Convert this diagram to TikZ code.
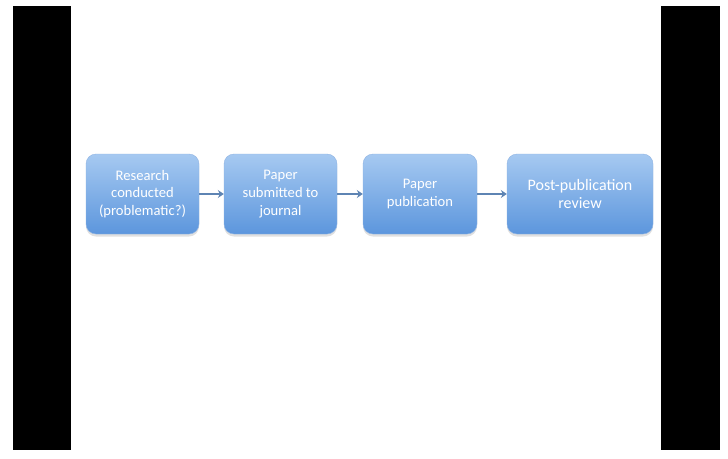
\documentclass[tikz,border=0pt]{standalone}
\usepackage{fontspec}
\setmainfont{Carlito}
\usetikzlibrary{shadows,arrows.meta}
\definecolor{boxtop}{HTML}{A6C9F1}
\definecolor{boxbot}{HTML}{5C96DD}
\definecolor{boxline}{HTML}{8FB4E3}
\definecolor{arrowc}{HTML}{5E84B3}
\tikzset{
  stepbox/.style={rounded corners=10pt, minimum height=80pt, top color=boxtop, bottom color=boxbot, draw=boxline, line width=0.4pt,
    text=white, align=center, font=\fontsize{14.6}{17.8}\selectfont,
    drop shadow={shadow xshift=0pt, shadow yshift=-2.5pt, fill=black!30, opacity=0.4}},
  bigtext/.style={font=\fontsize{16}{18.5}\selectfont},
  flow/.style={draw=arrowc, line width=1.6pt, -{Stealth[length=6pt,width=8pt,inset=2pt]}},
  bar/.style={fill=black, draw=none}
}
\begin{document}
\begin{tikzpicture}[x=1pt,y=-1pt]
\useasboundingbox (0,0) rectangle (728,458);
\fill[white] (0,0) rectangle (728,458);
\fill[bar] (13,6) rectangle (71,450);
\fill[bar] (661,6) rectangle (720,450);
\node[stepbox, minimum width=113pt] (b1) at (142.5,194) {Research\\conducted\\(problematic?)};
\node[stepbox, minimum width=113pt] (b2) at (280.5,194) {Paper\\submitted to\\journal};
\node[stepbox, minimum width=114pt] (b3) at (420,194) {Paper\\publication};
\node[stepbox, bigtext, minimum width=146pt] (b4) at (580,194) {Post-publication\\review};
\draw[flow] (b1.east) -- (b2.west);
\draw[flow] (b2.east) -- (b3.west);
\draw[flow] (b3.east) -- (b4.west);
\end{tikzpicture}
\end{document}
